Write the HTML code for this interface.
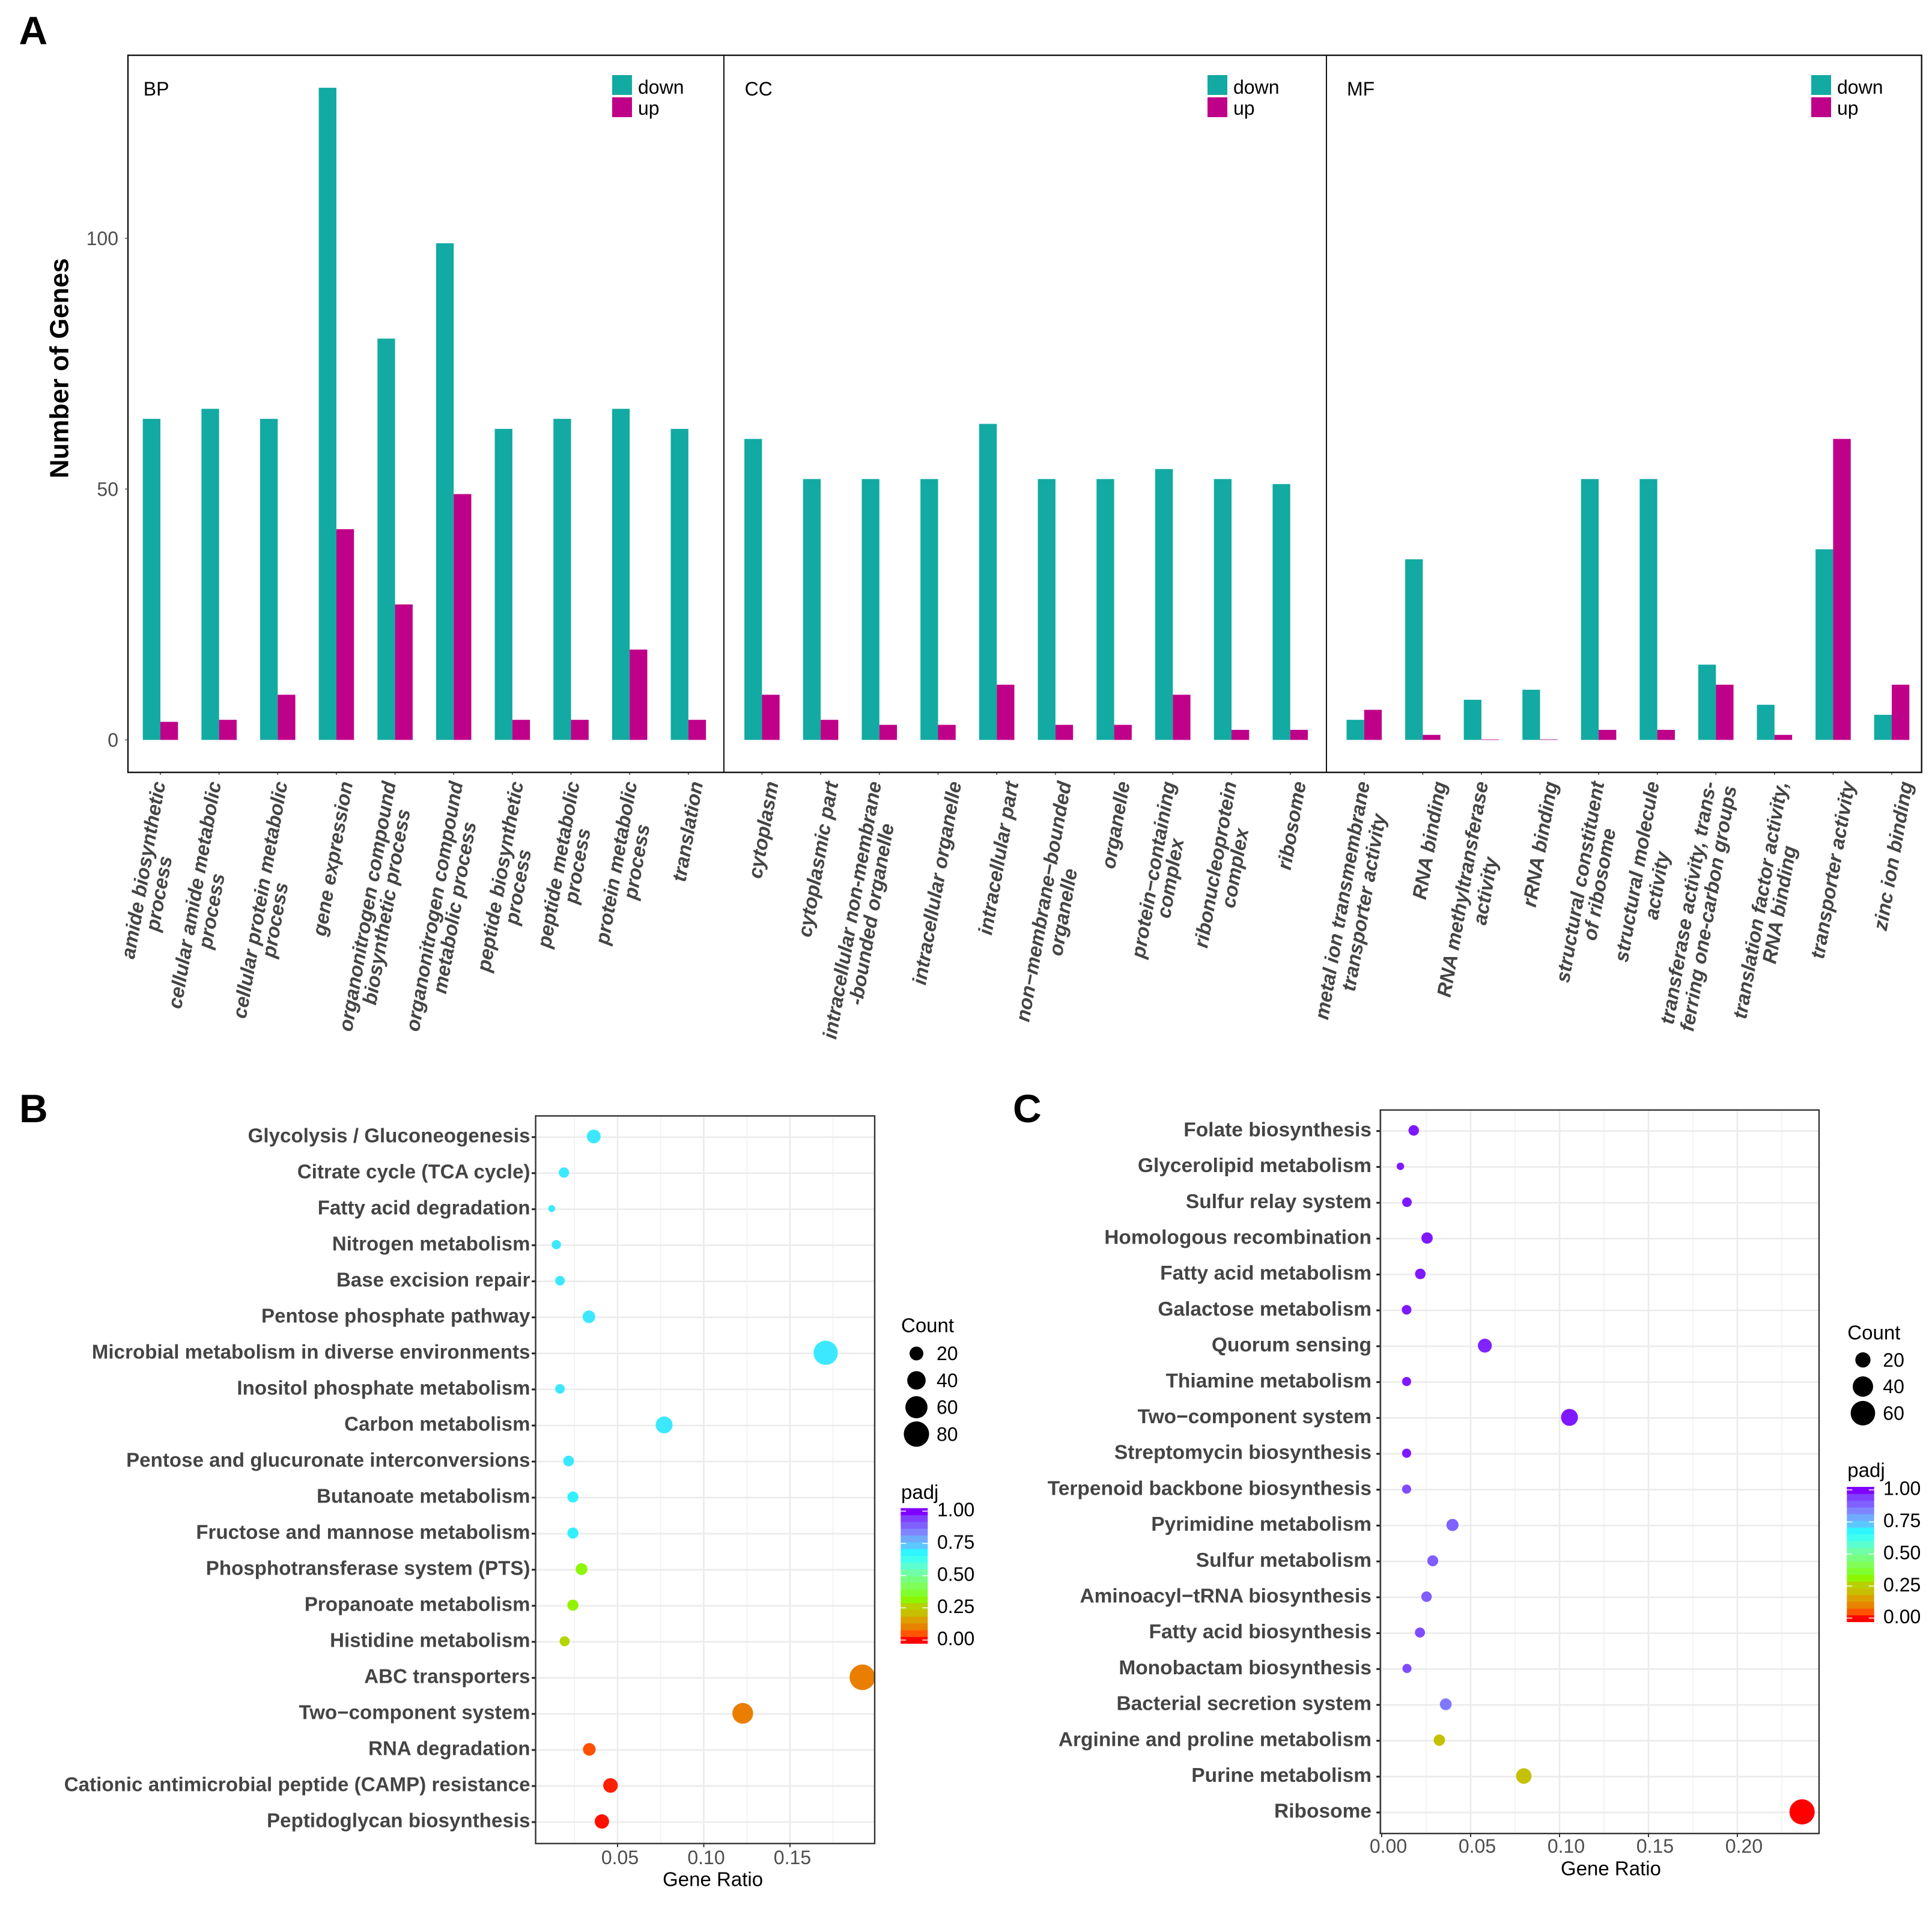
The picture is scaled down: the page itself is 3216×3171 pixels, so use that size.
<!DOCTYPE html>
<html lang="en">
<head>
<meta charset="utf-8">
<title>GO enrichment and KEGG pathway figure</title>
<style>
  html, body { margin: 0; padding: 0; background: #ffffff; }
  svg { display: block; font-family: "Liberation Sans", Arial, sans-serif; }
</style>
</head>
<body>
<svg id="figure" xmlns="http://www.w3.org/2000/svg" width="3216" height="3171" viewBox="0 0 3216 3171">
  <rect x="0" y="0" width="3216" height="3171" fill="#ffffff"/>
</svg>
<script>
/* ---------- Panel A data ---------- */
const catBP = ["amide biosynthetic\nprocess","cellular amide metabolic\nprocess","cellular protein metabolic\nprocess","gene expression","organonitrogen compound\nbiosynthetic process","organonitrogen compound\nmetabolic process","peptide biosynthetic\nprocess","peptide metabolic\nprocess","protein metabolic\nprocess","translation"];
const downBP = [64,66,64,130,80,99,62,64,66,62];
const upBP = [3.6,4,9,42,27,49,4,4,18,4];

const catCC = ["cytoplasm","cytoplasmic part","intracellular non-membrane\n-bounded organelle","intracellular organelle","intracellular part","non\u2212membrane\u2212bounded\norganelle","organelle","protein\u2212containing\ncomplex","ribonucleoprotein\ncomplex","ribosome"];
const downCC = [60,52,52,52,63,52,52,54,52,51];
const upCC = [9,4,3,3,11,3,3,9,2,2];

const catMF = ["metal ion transmembrane\ntransporter activity","RNA binding","RNA methyltransferase\nactivity","rRNA binding","structural constituent\nof ribosome","structural molecule\nactivity","transferase activity, trans-\nferring one-carbon groups","translation factor activity,\nRNA binding","transporter activity","zinc ion binding"];
const downMF = [4,36,8,10,52,52,15,7,38,5];
const upMF = [6,1,0.1,0.1,2,2,11,1,60,11];

const yTicksA = [0,50,100];

/* ---------- Panel B data ---------- */
const pathwaysB = ["Glycolysis / Gluconeogenesis","Citrate cycle (TCA cycle)","Fatty acid degradation","Nitrogen metabolism","Base excision repair","Pentose phosphate pathway","Microbial metabolism in diverse environments","Inositol phosphate metabolism","Carbon metabolism","Pentose and glucuronate interconversions","Butanoate metabolism","Fructose and mannose metabolism","Phosphotransferase system (PTS)","Propanoate metabolism","Histidine metabolism","ABC transporters","Two\u2212component system","RNA degradation","Cationic antimicrobial peptide (CAMP) resistance","Peptidoglycan biosynthesis"];
const ratioB = [0.0362,0.0189,0.0118,0.0145,0.0166,0.0334,0.1707,0.0166,0.077,0.0216,0.0241,0.0241,0.0291,0.0241,0.0193,0.192,0.1226,0.0336,0.0459,0.0409];
const countB = [20,9,1,6,7,16,73,7,33,10,11,11,13,11,8,82,52,16,23,22];
const padjB = [0.7,0.7,0.7,0.7,0.7,0.7,0.7,0.7,0.7,0.7,0.69,0.69,0.32,0.31,0.27,0.1,0.1,0.05,0.02,0.01];

/* ---------- Panel C data ---------- */
const pathwaysC = ["Folate biosynthesis","Glycerolipid metabolism","Sulfur relay system","Homologous recombination","Fatty acid metabolism","Galactose metabolism","Quorum sensing","Thiamine metabolism","Two\u2212component system","Streptomycin biosynthesis","Terpenoid backbone biosynthesis","Pyrimidine metabolism","Sulfur metabolism","Aminoacyl\u2212tRNA biosynthesis","Fatty acid biosynthesis","Monobactam biosynthesis","Bacterial secretion system","Arginine and proline metabolism","Purine metabolism","Ribosome"];
const ratioC = [0.018,0.0105,0.0142,0.0255,0.0217,0.014,0.058,0.014,0.1056,0.014,0.014,0.0398,0.0287,0.0252,0.0215,0.0142,0.036,0.0324,0.0799,0.2364];
const countC = [7,1,5,9,7,5,16,4,26,4,4,11,8,7,6,4,10,9,21,64];
const padjC = [0.98,0.98,0.98,0.98,0.98,0.98,0.97,0.98,0.98,0.98,0.93,0.89,0.9,0.9,0.93,0.93,0.86,0.22,0.22,0];

/* ---------- Shared ticks and legend values ---------- */
const xTicksB = [0.05,0.10,0.15];
const xMinorB = [0.025,0.075,0.125,0.175];
const xTicksC = [0,0.05,0.10,0.15,0.20];
const xMinorC = [0.025,0.075,0.125,0.175,0.225];
const sizeLegendB = [20,40,60,80];
const sizeLegendC = [20,40,60];
const padjTicks = [1,0.75,0.5,0.25,0];

/* ---------- Palette (padj 0 to 1) ---------- */
const rainbow = ["#FF0000","#FF5500","#E88300","#DDA000","#C8BE00","#B8D000","#8EF500","#80FF30","#80FF58","#78FF80","#70FFA8","#5CFFD0","#40FFEE","#2EF5FF","#5CC8FF","#70ABFF","#7F85FF","#8060FF","#8040FF","#7F00FF"];

/* ---------- Hand-tuned tick label placement (layout only) ---------- */
const layoutBP = [[-3,8,124],[-8,-2,153],[5,6,168],[16],[-10,14,46],[4,26,67],[7,20,113],[3,21,78],[1,22,71],[13]];
const layoutCC = [[16],[18],[-8,13,70],[27.5],[25],[15,25,145],[15],[-7,7,95],[-3,17,78],[15]];
const layoutMF = [[-2,25,54],[28],[0,16,126],[18],[-2,17,78],[-8,9,117],[-11,23,7],[11,25,107],[25],[23.6]];

const NS = "http://www.w3.org/2000/svg";
const root = document.getElementById("figure");

function make(tag, attrs, parent, text) {
  const el = document.createElementNS(NS, tag);
  for (const k in attrs) el.setAttribute(k, attrs[k]);
  if (text !== undefined) el.textContent = text;
  parent.appendChild(el);
  return el;
}
function kebab(s) {
  return String(s).toLowerCase().replace(/[^a-z0-9]+/g, "-").replace(/^-|-$/g, "");
}
function hexToRgb(h) {
  return [parseInt(h.slice(1,3),16), parseInt(h.slice(3,5),16), parseInt(h.slice(5,7),16)];
}
function padjColor(v) {
  const t = Math.max(0, Math.min(1, v)) * (rainbow.length - 1);
  const i = Math.min(rainbow.length - 2, Math.floor(t));
  const f = t - i;
  const a = hexToRgb(rainbow[i]);
  const b = hexToRgb(rainbow[i + 1]);
  return "rgb(" + a.map((c, n) => Math.round(c + (b[n] - c) * f)).join(",") + ")";
}

/* ---------- Panel letters ---------- */
function panelLetter(letter, x, y) {
  const t = make("text", {x: x, y: y, "font-size": 66, "font-weight": "bold", fill: "#000"}, root, letter);
  
  
}
panelLetter("A", 31.5, 73.5);
panelLetter("B", 32, 1868);
panelLetter("C", 1686, 1868);

/* ---------- Panel A ---------- */
const A = {top: 92, bottom: 1285.7, left: 213, d1: 1205, d2: 2208, right: 3198.7, zero: 1231.6, unit: 8.35, barW: 29.3};
function yA(v) { return A.zero - v * A.unit; }

const gA = make("g", {}, root);



function facet(name, x0, step, cats, down, up, layout, labelX, swatchX) {
  const g = make("g", {}, gA);
  
  

  const title = make("text", {x: labelX, y: 148, dy: "0.35em", "font-size": 32, fill: "#000"}, g, name);
  
  

  cats.forEach((cat, i) => {
    const tick = x0 + step * i;
    const slug = kebab(cat);

    const barDown = make("rect", {x: tick - A.barW, y: yA(down[i]), width: A.barW, height: down[i] * A.unit, fill: "#12AAA2"}, g);
    
    

    const barUp = make("rect", {x: tick, y: yA(up[i]), width: A.barW, height: up[i] * A.unit, fill: "#BF0088"}, g);
    
    

    const mark = make("line", {x1: tick, x2: tick, y1: A.bottom, y2: A.bottom + 4, stroke: "#333", "stroke-width": 1.5}, g);
    
    

    const lines = cat.split("\n");
    const lay = layout[i];
    const first = make("text", {transform: "translate(" + (tick + lay[0]) + ",1301) rotate(-80)", "text-anchor": "end", dy: "0.35em", "font-size": 33, "font-weight": "bold", "font-style": "italic", fill: "#444"}, g, lines[0]);
    
    
    if (lines.length > 1) {
      const second = make("text", {transform: "translate(" + (tick + lay[1]) + "," + (1301 + lay[2]) + ") rotate(-80)", "text-anchor": "end", dy: "0.35em", "font-size": 33, "font-weight": "bold", "font-style": "italic", fill: "#444"}, g, lines[1]);
      
      
    }
  });

  const swDown = make("rect", {x: swatchX, y: 125, width: 33, height: 33, fill: "#12AAA2"}, g);
  
  
  const swUp = make("rect", {x: swatchX, y: 162, width: 33, height: 33, fill: "#BF0088"}, g);
  
  
  const txtDown = make("text", {x: swatchX + 43, y: 145, dy: "0.35em", "font-size": 32, fill: "#000"}, g, "down");
  
  
  const txtUp = make("text", {x: swatchX + 43, y: 180, dy: "0.35em", "font-size": 32, fill: "#000"}, g, "up");
  
  
}
facet("BP", 267, 97.65, catBP, downBP, upBP, layoutBP, 238.8, 1019);
facet("CC", 1268.4, 97.7, catCC, downCC, upCC, layoutCC, 1239.6, 2010);
facet("MF", 2270.8, 97.58, catMF, downMF, upMF, layoutMF, 2242, 3015);

const frameA = make("rect", {x: A.left, y: A.top, width: A.right - A.left, height: A.bottom - A.top, fill: "none", stroke: "#111", "stroke-width": 2.4}, gA);


const div1 = make("line", {x1: A.d1, x2: A.d1, y1: A.top, y2: A.bottom, stroke: "#111", "stroke-width": 2}, gA);


const div2 = make("line", {x1: A.d2, x2: A.d2, y1: A.top, y2: A.bottom, stroke: "#111", "stroke-width": 2}, gA);



yTicksA.forEach(v => {
  const lab = make("text", {x: 197, y: yA(v), dy: "0.35em", "text-anchor": "end", "font-size": 32, fill: "#4D4D4D"}, gA, v);
  
  
  const m = make("line", {x1: 208, x2: A.left, y1: yA(v), y2: yA(v), stroke: "#555", "stroke-width": 1.5}, gA);
  
  
});
const yTitleA = make("text", {transform: "translate(98,613) rotate(-90)", "text-anchor": "middle", dy: "0.35em", "font-size": 44, "font-weight": "bold", fill: "#000"}, gA, "Number of Genes");



/* ---------- Dot plots (B, C) ---------- */
function dotPanel(cfg) {
  const g = make("g", {}, root);
  
  

  const xScale = v => cfg.x0 + (v - cfg.xRef) * cfg.xUnit;
  const yScale = i => cfg.rowTop + i * cfg.rowStep;
  const radius = c => Math.sqrt(cfg.sizeA + cfg.sizeB * c);

  cfg.minor.forEach(v => {
    const l = make("line", {x1: xScale(v), x2: xScale(v), y1: cfg.top, y2: cfg.bottom, stroke: "#f0f0f0", "stroke-width": 1.5}, g);
    
    
  });
  cfg.ticks.forEach(v => {
    const l = make("line", {x1: xScale(v), x2: xScale(v), y1: cfg.top, y2: cfg.bottom, stroke: "#ebebeb", "stroke-width": 2.6}, g);
    
    
  });
  cfg.names.forEach((n, i) => {
    const l = make("line", {x1: cfg.left, x2: cfg.right, y1: yScale(i), y2: yScale(i), stroke: "#ebebeb", "stroke-width": 2.6}, g);
    
    
  });

  cfg.names.forEach((n, i) => {
    const slug = kebab(n);
    const dot = make("circle", {cx: xScale(cfg.ratio[i]), cy: yScale(i) - 1, r: radius(cfg.count[i]), fill: padjColor(cfg.padj[i])}, g);
    
    

    const lab = make("text", {x: cfg.labelEnd, y: yScale(i) - 3, dy: "0.35em", "text-anchor": "end", "font-size": cfg.labelFont, "letter-spacing": cfg.labelSpacing, "font-weight": "bold", fill: "#444"}, g, n);
    
    

    const m = make("line", {x1: cfg.left - 6.5, x2: cfg.left, y1: yScale(i), y2: yScale(i), stroke: "#222", "stroke-width": 3}, g);
    
    
  });

  const frame = make("rect", {x: cfg.left, y: cfg.top, width: cfg.right - cfg.left, height: cfg.bottom - cfg.top, fill: "none", stroke: "#333", "stroke-width": 2.4}, g);
  
  

  cfg.ticks.forEach(v => {
    const m = make("line", {x1: xScale(v), x2: xScale(v), y1: cfg.bottom, y2: cfg.bottom + 6, stroke: "#333", "stroke-width": 2}, g);
    
    
    const t = make("text", {x: xScale(v) + cfg.tickLabelShift, y: cfg.tickLabelY, dy: "0.35em", "text-anchor": "middle", "font-size": 32, fill: "#4D4D4D"}, g, v.toFixed(2));
    
    
  });
  const xt = make("text", {x: cfg.xTitleX, y: cfg.xTitleY, dy: "0.35em", "text-anchor": "middle", "font-size": 33, fill: "#000"}, g, "Gene Ratio");
  
  

  /* Count legend */
  const ct = make("text", {x: cfg.legX, y: cfg.countTitleY, dy: "0.35em", "font-size": 33, fill: "#000"}, g, "Count");
  
  
  cfg.sizes.forEach((c, i) => {
    const cy = cfg.countY + i * cfg.countStep;
    const k = make("circle", {cx: cfg.countCx, cy: cy, r: radius(c), fill: "#000"}, g);
    
    
    const l = make("text", {x: cfg.legLabelX, y: cy, dy: "0.35em", "font-size": 32, fill: "#000"}, g, c);
    
    
  });

  /* padj colour bar */
  const pt = make("text", {x: cfg.legX, y: cfg.padjTitleY, dy: "0.35em", "font-size": 33, fill: "#000"}, g, "padj");
  
  
  const binH = (cfg.barBottom - cfg.barTop) / rainbow.length;
  rainbow.forEach((c, i) => {
    const r = make("rect", {x: cfg.barX, y: cfg.barBottom - (i + 1) * binH, width: cfg.barW, height: binH + 0.5, fill: c}, g);
    
    
  });
  padjTicks.forEach(v => {
    const ty = cfg.barTick0 - v * cfg.barTickSpan;
    const a = make("line", {x1: cfg.barX, x2: cfg.barX + 9, y1: ty, y2: ty, stroke: "#fff", "stroke-width": 1.5}, g);
    
    
    const b = make("line", {x1: cfg.barX + cfg.barW - 9, x2: cfg.barX + cfg.barW, y1: ty, y2: ty, stroke: "#fff", "stroke-width": 1.5}, g);
    
    
    const l = make("text", {x: cfg.barLabelX, y: ty - 2.5, dy: "0.35em", "font-size": 32, fill: "#000"}, g, v.toFixed(2));
    
    
  });
}

dotPanel({
  id: "b", names: pathwaysB, ratio: ratioB, count: countB, padj: padjB, ticks: xTicksB, minor: xMinorB, sizes: sizeLegendB,
  left: 891.6, right: 1456, top: 1857.5, bottom: 3068.7, x0: 1028, xRef: 0.05, xUnit: 2870,
  rowTop: 1892.8, rowStep: 60.01, sizeA: 28, sizeB: 5.2, labelEnd: 882.6, labelFont: 33, labelSpacing: 0.08,
  tickLabelShift: 4, tickLabelY: 3091.7, xTitleX: 1186.6, xTitleY: 3128,
  legX: 1500, countTitleY: 2205.7, countCx: 1525.5, countY: 2253, countStep: 44.7, legLabelX: 1559, padjTitleY: 2483.5,
  barX: 1499.3, barW: 45, barTop: 2510.4, barBottom: 2735.6, barTick0: 2730, barTickSpan: 214.6, barLabelX: 1560
});

dotPanel({
  id: "c", names: pathwaysC, ratio: ratioC, count: countC, padj: padjC, ticks: xTicksC, minor: xMinorC, sizes: sizeLegendC,
  left: 2297.7, right: 3028, top: 1847.7, bottom: 3052, x0: 2300, xRef: 0, xUnit: 2960,
  rowTop: 1882.7, rowStep: 59.70, sizeA: 32, sizeB: 6.4, labelEnd: 2283, labelFont: 33.5, labelSpacing: 0,
  tickLabelShift: 11, tickLabelY: 3073, xTitleX: 2681.5, xTitleY: 3110,
  legX: 3075.3, countTitleY: 2218, countCx: 3101, countY: 2263.7, countStep: 44.3, legLabelX: 3134.3, padjTitleY: 2447,
  barX: 3074.3, barW: 45.4, barTop: 2475, barBottom: 2699.6, barTick0: 2693.4, barTickSpan: 213.4, barLabelX: 3135
});
</script>
</body>
</html>
